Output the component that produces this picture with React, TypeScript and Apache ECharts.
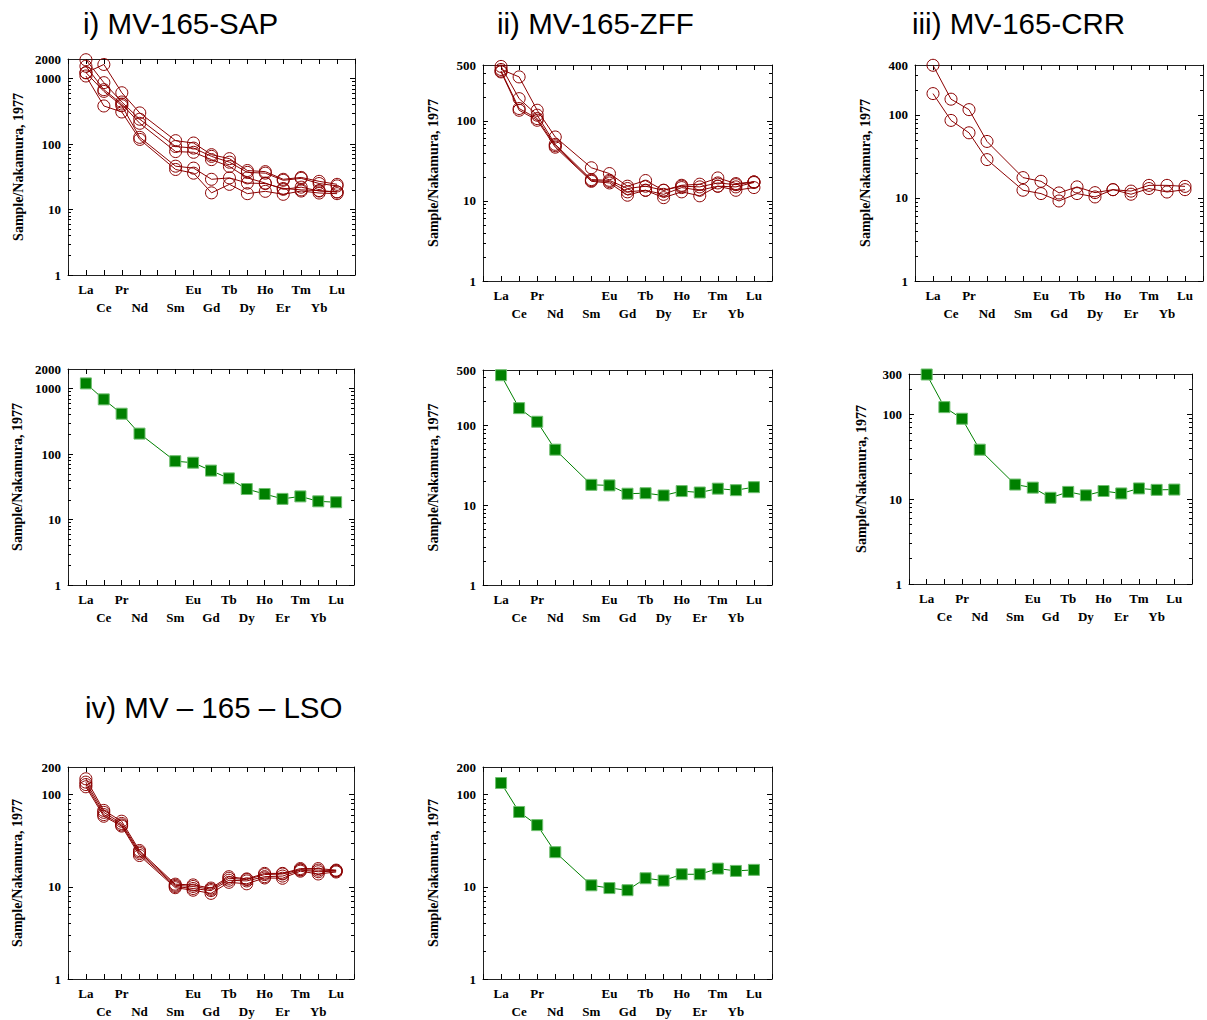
import React, { useEffect, useRef } from 'react';
import * as echarts from 'echarts';

// x-axis slots (Pm has no analysis and no label)
const AXIS_SLOTS = ['La', 'Ce', 'Pr', 'Nd', 'Pm', 'Sm', 'Eu', 'Gd', 'Tb', 'Dy', 'Ho', 'Er', 'Tm', 'Yb', 'Lu'];
const ELEMENTS = ['La', 'Ce', 'Pr', 'Nd', 'Sm', 'Eu', 'Gd', 'Tb', 'Dy', 'Ho', 'Er', 'Tm', 'Yb', 'Lu'];
const Y_LABEL = 'Sample/Nakamura, 1977';
const TITLES = ['i) MV-165-SAP', 'ii) MV-165-ZFF', 'iii) MV-165-CRR', 'iv) MV – 165 – LSO'];
const Y_MAX = [2000, 500, 400, 2000, 500, 300, 200, 200];

// i) MV-165-SAP samples
const SAP_A = [1230, 1650, 610, 300, 113, 104, 69, 60, 39.5, 38, 29, 31, 27, 24.3];
const SAP_B = [1950, 870, 440, 240, 92, 87, 65, 53, 37, 36, 28, 30, 25, 23];
const SAP_C = [1550, 680, 410, 208, 77, 75, 58, 45.5, 30.5, 25.4, 20.4, 22, 19.2, 18.6];
const SAP_D = [1240, 640, 387, 127, 46, 43, 29, 30.5, 25.4, 25, 21, 20, 19.5, 18.6];
const SAP_E = [1100, 383, 310, 118, 41, 36, 18, 24.3, 17.5, 19, 17.1, 19.2, 17.9, 17.5];
const SAP_MEAN = [1205, 687, 415, 206, 78, 74, 56, 42.6, 29.3, 24.6, 20.7, 22.6, 19, 18.4];

// ii) MV-165-ZFF samples
const ZFF_A = [440, 355, 136, 63, 26, 22, 15.3, 18, 13.6, 15.7, 16.2, 19.4, 16.5, 17.3];
const ZFF_B = [480, 190, 118, 51, 18.5, 18.1, 14.3, 15.3, 13.6, 15.3, 15, 16.8, 16, 17.3];
const ZFF_C = [420, 143, 107, 49, 18, 17.5, 13, 13.6, 12.1, 14.7, 13.6, 15.3, 15, 17];
const ZFF_D = [410, 136, 102, 47, 17.6, 16.8, 11.8, 13.6, 11, 13, 11.6, 15.3, 13.6, 14.7];
const ZFF_MEAN = [430, 166, 112, 50, 18.1, 17.8, 14, 14.2, 13.3, 15.1, 14.5, 16.2, 15.5, 16.9];

// iii) MV-165-CRR samples
const CRR_A = [397, 155, 116, 48, 17.6, 15.9, 11.5, 13.6, 11.6, 12.6, 12.1, 14.2, 14.2, 13.8];
const CRR_B = [181, 86, 61, 29, 12.4, 11.3, 9.2, 11.3, 10.3, 12.6, 11.1, 13, 11.8, 12.6];
const CRR_MEAN = [296, 122, 89, 38.4, 14.9, 13.7, 10.4, 12.2, 11.1, 12.5, 11.7, 13.4, 12.9, 13];

// iv) MV – 165 – LSO samples
const LSO_A = [149, 67.6, 51.6, 24.8, 10.7, 10.5, 9.7, 12.9, 12.2, 14, 14, 15.8, 15.8, 15.2];
const LSO_B = [137, 64.4, 48.8, 23.9, 10.4, 10.1, 9.4, 12.4, 12, 13.6, 13.8, 15.4, 15.2, 15];
const LSO_C = [129, 60.9, 47, 23, 10.1, 9.6, 9.1, 11.8, 11.6, 12.9, 13.1, 15.2, 14.6, 14.8];
const LSO_D = [122, 58.4, 45.7, 21.9, 9.8, 9.2, 8.5, 11.2, 10.8, 12.5, 12.4, 14.8, 13.8, 14.5];
const LSO_MEAN = [134, 65, 46.8, 23.8, 10.4, 9.7, 9.2, 12.4, 11.7, 13.7, 13.7, 15.8, 14.9, 15.3];

const PANEL_SERIES = [
  [SAP_A, SAP_B, SAP_C, SAP_D, SAP_E],
  [ZFF_A, ZFF_B, ZFF_C, ZFF_D],
  [CRR_A, CRR_B],
  [SAP_MEAN],
  [ZFF_MEAN],
  [CRR_MEAN],
  [LSO_A, LSO_B, LSO_C, LSO_D],
  [LSO_MEAN],
];
const PANEL_KIND = ['samples', 'samples', 'samples', 'mean', 'mean', 'mean', 'samples', 'mean'];

// layout (px)
const GRIDS = [
  { left: 68, top: 59, width: 287, height: 216, nameGap: 43 },
  { left: 483, top: 65, width: 289, height: 216, nameGap: 43 },
  { left: 915, top: 65, width: 288, height: 216, nameGap: 43 },
  { left: 68, top: 369, width: 286, height: 216, nameGap: 44 },
  { left: 483, top: 370, width: 289, height: 215, nameGap: 43 },
  { left: 909, top: 374, width: 283, height: 210, nameGap: 41 },
  { left: 68, top: 767, width: 286, height: 216, nameGap: 44 },
  { left: 483, top: 767, width: 289, height: 216, nameGap: 43 },
];
const TITLE_POS = [
  { left: 83, top: 8, size: 29.5 },
  { left: 497, top: 8, size: 29.5 },
  { left: 912, top: 8, size: 29.5 },
  { left: 85, top: 692, size: 29.5 },
];

const RED = '#8b0000';
const GREEN = '#008000';
const FRAME = '#222';
const SERIF = "'Liberation Serif', 'Times New Roman', serif";
const SANS = "'Liberation Sans', Arial, sans-serif";

function majorsFor(max: number) {
  const out: number[] = [];
  for (let d = 0; Math.pow(10, d) <= max; d++) out.push(d);
  return out;
}
function minorsFor(max: number) {
  const out: number[] = [];
  for (let d = 0; Math.pow(10, d) <= max; d++) {
    for (let k = 2; k <= 9; k++) {
      const v = k * Math.pow(10, d);
      if (v < max) out.push(Math.log10(v));
    }
  }
  return out;
}

function buildOption() {
  const grid: any[] = [];
  const xAxis: any[] = [];
  const yAxis: any[] = [];
  const series: any[] = [];

  GRIDS.forEach((g, gi) => {
    grid.push({ left: g.left, top: g.top, width: g.width, height: g.height });
    const max = Y_MAX[gi];
    const L = Math.log10(max);
    const majors = majorsFor(max);
    const minors = minorsFor(max);

    xAxis.push({
      type: 'value', gridIndex: gi, position: 'bottom', min: -1, max: 15, interval: 1,
      axisLine: { show: true, onZero: false, lineStyle: { color: FRAME, width: 1 } },
      axisTick: { show: true, inside: true, length: 5, lineStyle: { color: '#000' } },
      splitLine: { show: false },
      axisLabel: {
        show: true, margin: 5, fontFamily: SERIF, fontWeight: 'bold', fontSize: 13,
        lineHeight: 18, color: '#000', verticalAlign: 'top',
        formatter: (v: number) => {
          const name = AXIS_SLOTS[v];
          if (!name || name === 'Pm') return '';
          return v % 2 === 1 ? '\n' + name : name;
        },
      },
    });
    xAxis.push({
      type: 'value', gridIndex: gi, position: 'top', min: -1, max: 15, interval: 1,
      axisLine: { show: true, onZero: false, lineStyle: { color: FRAME, width: 1 } },
      axisTick: { show: true, inside: true, length: 5, lineStyle: { color: '#000' } },
      splitLine: { show: false },
      axisLabel: { show: false },
    });

    yAxis.push({
      type: 'log', logBase: 10, gridIndex: gi, min: 1, max,
      show: false, splitLine: { show: false },
    });
    yAxis.push({
      type: 'value', gridIndex: gi, position: 'left', min: 0, max: L,
      name: Y_LABEL, nameLocation: 'middle', nameGap: g.nameGap, nameRotate: 90,
      nameTextStyle: { fontFamily: SERIF, fontWeight: 'bold', fontSize: 14, color: '#000' },
      axisLine: { show: true, onZero: false, lineStyle: { color: FRAME, width: 1 } },
      axisTick: { show: true, inside: true, length: 5, customValues: majors, lineStyle: { color: '#000' } },
      splitLine: { show: false },
      axisLabel: {
        show: true, margin: 7, fontFamily: SERIF, fontWeight: 'bold', fontSize: 13, color: '#000',
        customValues: [...majors, L],
        formatter: (v: number) => String(Math.round(Math.pow(10, v))),
      },
    });
    yAxis.push({
      type: 'value', gridIndex: gi, position: 'left', min: 0, max: L,
      axisLine: { show: false, onZero: false },
      axisTick: { show: true, inside: true, length: 3, customValues: minors, lineStyle: { color: '#000' } },
      splitLine: { show: false }, axisLabel: { show: false },
    });
    yAxis.push({
      type: 'value', gridIndex: gi, position: 'right', min: 0, max: L,
      axisLine: { show: true, onZero: false, lineStyle: { color: FRAME, width: 1 } },
      axisTick: { show: true, inside: true, length: 5, customValues: majors, lineStyle: { color: '#000' } },
      splitLine: { show: false }, axisLabel: { show: false },
    });
    yAxis.push({
      type: 'value', gridIndex: gi, position: 'right', min: 0, max: L,
      axisLine: { show: false, onZero: false },
      axisTick: { show: true, inside: true, length: 3, customValues: minors, lineStyle: { color: '#000' } },
      splitLine: { show: false }, axisLabel: { show: false },
    });

    const kind = PANEL_KIND[gi];
    PANEL_SERIES[gi].forEach((vals) => {
      const data = vals.map((v, i) => [AXIS_SLOTS.indexOf(ELEMENTS[i]), v]);
      if (kind === 'samples') {
        series.push({
          type: 'line', xAxisIndex: gi * 2, yAxisIndex: gi * 5, data,
          symbol: 'circle', symbolSize: 12, showSymbol: true, silent: true,
          lineStyle: { color: RED, width: 1 },
          itemStyle: { color: 'rgba(0,0,0,0)', borderColor: RED, borderWidth: 1 },
          emphasis: { disabled: true },
        });
      } else {
        series.push({
          type: 'line', xAxisIndex: gi * 2, yAxisIndex: gi * 5, data,
          symbol: 'rect', symbolSize: 11, showSymbol: true, silent: true,
          lineStyle: { color: GREEN, width: 1 },
          itemStyle: { color: GREEN, borderColor: '#6fbf6f', borderWidth: 1 },
          emphasis: { disabled: true },
        });
      }
    });
  });

  const title = TITLES.map((t, i) => ({
    text: t, left: TITLE_POS[i].left, top: TITLE_POS[i].top, padding: 0,
    textStyle: { fontFamily: SANS, fontSize: TITLE_POS[i].size, fontWeight: 'normal', color: '#000' },
  }));

  return {
    animation: false,
    backgroundColor: '#fff',
    title,
    grid,
    xAxis,
    yAxis,
    series,
  };
}

export default function App() {
  const ref = useRef<HTMLDivElement>(null);
  useEffect(() => {
    if (!ref.current) return;
    const chart = echarts.init(ref.current, null, { renderer: 'svg' });
    chart.setOption(buildOption() as any);
    return () => chart.dispose();
  }, []);
  return (
    <div
      ref={ref}
      style={{ position: 'fixed', left: 0, top: 0, width: 1207, height: 1020, background: '#fff' }}
    />
  );
}
